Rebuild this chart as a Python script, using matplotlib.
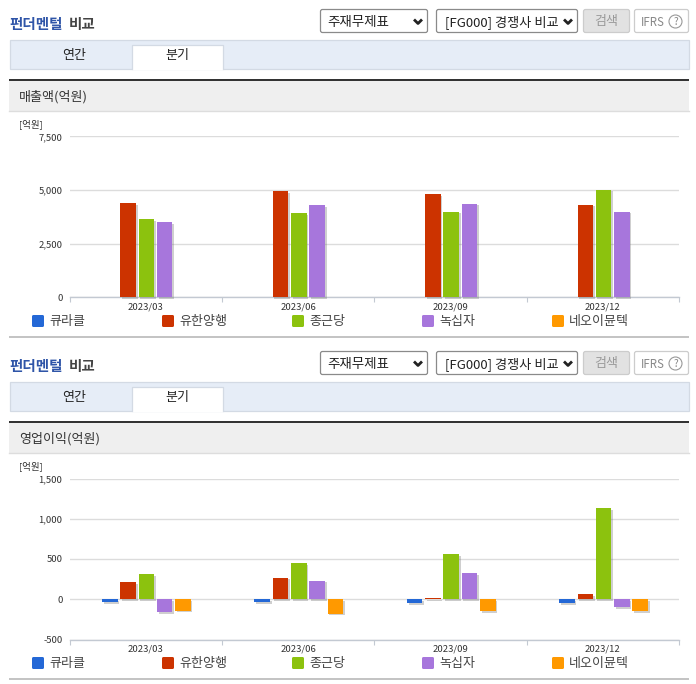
import matplotlib
matplotlib.use("Agg")
import matplotlib.pyplot as plt
import matplotlib.patches as mpatches
import matplotlib.patheffects as pe
import numpy as np

plt.rcParams["font.family"] = ["Noto Sans CJK KR", "DejaVu Sans"]

W, H = 696, 684
PANEL_DY = 342

companies = ["큐라클", "유한양행", "종근당", "녹십자", "네오이뮨텍"]
colors = ["#2468d6", "#cc3300", "#8cc20e", "#a776dc", "#ff9900"]
quarters = ["2023/03", "2023/06", "2023/09", "2023/12"]

# 매출액 (억원)
sales_curacle = [30, 0, 0, 0]
sales_yuhan = [4400, 4950, 4800, 4330]
sales_ckd = [3650, 3920, 4000, 5020]
sales_gc = [3500, 4300, 4370, 4000]
sales_neo = [0, 0, 0, 0]

# 영업이익 (억원)
profit_curacle = [-40, -40, -45, -45]
profit_yuhan = [215, 270, 15, 60]
profit_ckd = [310, 445, 560, 1130]
profit_gc = [-160, 230, 320, -95]
profit_neo = [-140, -180, -145, -150]

sales_ticks = [0, 2500, 5000, 7500]
profit_ticks = [-500, 0, 500, 1000, 1500]

fig = plt.figure(figsize=(W / 100, H / 100), dpi=100, facecolor="white")
bg = fig.add_axes([0, 0, 1, 1])
bg.set_xlim(0, W)
bg.set_ylim(H, 0)
bg.axis("off")


def px(size):
    return size * 0.72


def box(x0, y0, x1, y1, fc, ec="none", lw=1.0, round_=False):
    if round_:
        p = mpatches.FancyBboxPatch((x0 + 2, y0 + 2), x1 - x0 - 4, y1 - y0 - 4,
                                    boxstyle="round,pad=2", fc=fc, ec=ec, lw=lw)
    else:
        p = mpatches.Rectangle((x0, y0), x1 - x0, y1 - y0, fc=fc, ec=ec, lw=lw)
    bg.add_patch(p)


def chevron(x, y):
    bg.plot([x - 4, x, x + 4], [y - 2, y + 2, y - 2], color="#222222", lw=2.0,
            solid_capstyle="butt")


def draw_frame(dy, header):
    bg.text(9, 24.5 + dy, "펀더멘털", color="#2f55a8", fontsize=px(14.5), fontweight="bold",
            va="center")
    bg.text(69, 24.5 + dy, "비교", color="#444444", fontsize=px(14.5), fontweight="bold",
            va="center")
    # selects and buttons
    box(320.5, 9.5 + dy, 427.5, 32.5 + dy, "white", "#8a8a8a", 0.9, True)
    bg.text(327, 22 + dy, "주재무제표", color="#222222", fontsize=px(13.5), va="center")
    chevron(418, 21.5 + dy)
    box(436.5, 9.5 + dy, 577.5, 32.5 + dy, "white", "#8a8a8a", 0.9, True)
    bg.text(445, 22 + dy, "[FG000] 경쟁사 비교", color="#222222", fontsize=px(13.2), va="center")
    chevron(568, 21.5 + dy)
    box(583.5, 9.5 + dy, 629.5, 32.5 + dy, "#e2e2e2", "#cccccc", 0.9, True)
    bg.text(606.5, 21.5 + dy, "검색", color="#999999", fontsize=px(13), ha="center", va="center")
    box(634.5, 9.5 + dy, 688.5, 32.5 + dy, "white", "#cccccc", 0.9, True)
    bg.text(641, 22 + dy, "IFRS", color="#888888", fontsize=px(11.5), va="center")
    bg.add_patch(mpatches.Circle((675.5, 21.5 + dy), 6.5, fc="white", ec="#999999", lw=0.8))
    bg.text(675.5, 22 + dy, "?", color="#888888", fontsize=px(10), ha="center", va="center")
    # tabs
    box(9.5, 39.5 + dy, 688.5, 68.5 + dy, "#e6edf7", "#d3dae4", 0.9)
    box(131.5, 44.5 + dy, 222.5, 69.5 + dy, "white")
    bg.plot([131.5, 131.5, 222.5, 222.5], [68.5 + dy, 44.5 + dy, 44.5 + dy, 68.5 + dy],
            color="#d3dae4", lw=0.9)
    bg.text(74, 56 + dy, "연간", color="#222222", fontsize=px(13), ha="center", va="center")
    bg.text(177, 56 + dy, "분기", color="#222222", fontsize=px(13), ha="center", va="center")
    # section header
    box(9, 81 + dy, 689, 111 + dy, "#efefef")
    bg.plot([9, 689], [111 + dy, 111 + dy], color="#dddddd", lw=1)
    box(9, 79 + dy, 689, 81 + dy, "#333333")
    bg.text(19, 97 + dy, header, color="#333333", fontsize=px(13), va="center")
    bg.text(19, 124 + dy, "[억원]", color="#333333", fontsize=px(9.5), va="center")
    # legend
    for x, name, c in zip([32, 162, 292, 422, 552], companies, colors):
        bg.add_patch(mpatches.FancyBboxPatch((x + 1.5, 316.5 + dy), 9, 9,
                                             boxstyle="round,pad=1.5", fc=c, ec="none"))
        bg.text(x + 17, 322 + dy, name, color="#444444", fontsize=px(13), va="center")
    # bottom rule
    box(9, 336 + dy, 689, 338 + dy, "#c4c4c4")


def draw_chart(top, bottom, ticks, series):
    ax = fig.add_axes([69.5 / W, 1 - bottom / H, (679 - 69.5) / W, (bottom - top) / H])
    ax.patch.set_alpha(0)
    ax.set_xlim(0, 4)
    ax.set_ylim(ticks[0], ticks[-1])
    for s in ["top", "left", "right"]:
        ax.spines[s].set_visible(False)
    ax.spines["bottom"].set_color("#c3c9d2")
    ax.spines["bottom"].set_linewidth(1)
    ax.set_axisbelow(True)
    ax.grid(axis="y", color="#dcdcdc", lw=1)
    ax.set_yticks(ticks)
    ax.set_yticklabels([f"{t:,}" for t in ticks], fontsize=px(9.5), color="#333333")
    ax.tick_params(axis="y", length=0, pad=5)
    ax.set_xticks(range(5))
    ax.set_xticklabels([])
    ax.tick_params(axis="x", length=3.5, width=0.8, color="#c3c9d2")
    for i, q in enumerate(quarters):
        ax.annotate(q, (i + 0.5, 0), xycoords=("data", "axes fraction"), xytext=(0, -7),
                    textcoords="offset points", ha="center", va="center",
                    fontsize=px(9.5), color="#333333")
    step = 18.3 / 152.4
    width = 15.5 / 152.4
    pos = np.arange(4) + 0.505
    shadow = [pe.SimplePatchShadow(offset=(1.2, -1.2), shadow_rgbFace="#777777", alpha=0.35),
              pe.Normal()]
    for j, (vals, c) in enumerate(zip(series, colors)):
        bars = ax.bar(pos + (j - 2) * step, vals, width, color=c, clip_on=False, zorder=3)
        for b in bars:
            b.set_path_effects(shadow)
    return ax


draw_frame(0, "매출액(억원)")
draw_frame(PANEL_DY, "영업이익(억원)")
draw_chart(136.5, 297.5, sales_ticks,
           [sales_curacle, sales_yuhan, sales_ckd, sales_gc, sales_neo])
draw_chart(478.5, 639.5, profit_ticks,
           [profit_curacle, profit_yuhan, profit_ckd, profit_gc, profit_neo])

fig.savefig("out.png", dpi=100)
